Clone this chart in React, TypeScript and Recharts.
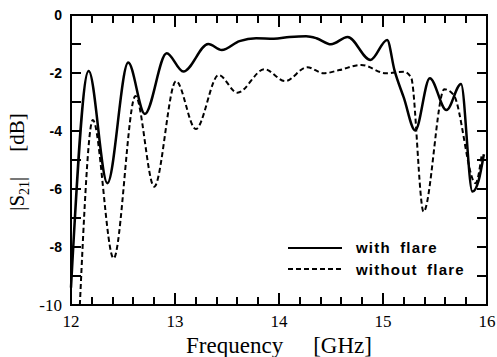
import React from "react";
import { LineChart, Line, XAxis, YAxis } from "recharts";

// S21 with flare (solid)
const freqWithFlare = [
    12.0, 12.17, 12.35, 12.55, 12.71, 12.92, 13.08, 13.32, 13.45, 13.62, 13.78,
    13.95, 14.1, 14.26, 14.36, 14.5, 14.66, 14.88, 15.04, 15.11, 15.2, 15.31,
    15.45, 15.61, 15.75, 15.86, 15.92, 15.97,
];
const s21WithFlare = [
    -9.4, -1.93, -5.8, -1.64, -3.41, -1.32, -1.95, -1.0, -1.21, -0.9, -0.8,
    -0.82, -0.76, -0.73, -0.8, -1.01, -0.76, -1.55, -0.86, -1.9, -2.85, -3.98,
    -2.18, -3.28, -2.38, -6.09, -5.7, -4.8,
];

// S21 without flare (dashed)
const freqWithoutFlare = [
    12.085, 12.21, 12.41, 12.62, 12.8, 13.01, 13.2, 13.42, 13.6, 13.86, 14.06,
    14.27, 14.43, 14.58, 14.79, 15.03, 15.2, 15.27, 15.39, 15.59, 15.68, 15.89,
    15.95,
];
const s21WithoutFlare = [
    -10, -3.62, -8.39, -2.79, -5.92, -2.28, -3.93, -2.07, -2.68, -1.87, -2.28,
    -1.8, -2.01, -1.9, -1.72, -2.01, -1.96, -2.15, -6.78, -2.56, -2.76, -5.8,
    -4.8,
];

const xTicks = [
    12, 12.2, 12.4, 12.6, 12.8, 13, 13.2, 13.4, 13.6, 13.8, 14, 14.2, 14.4, 14.6,
    14.8, 15, 15.2, 15.4, 15.6, 15.8, 16,
];
const xLabels = [12, 13, 14, 15, 16];
const yTicks = [0, -1, -2, -3, -4, -5, -6, -7, -8, -9, -10];
const yLabels = [0, -2, -4, -6, -8, -10];

const SERIF = "'Liberation Serif', 'Times New Roman', serif";
const SANS = "'Liberation Sans', Arial, sans-serif";

const W = 497;
const H = 357;
const M = { top: 15, right: 10, left: 71, bottom: 52 };
const PLOT = { x0: M.left, x1: W - M.right, y0: M.top, y1: H - M.bottom };
const sx = (v: number) => PLOT.x0 + ((v - 12) / 4) * (PLOT.x1 - PLOT.x0);
const sy = (v: number) => PLOT.y0 + (-v / 10) * (PLOT.y1 - PLOT.y0);

// one table for the chart, gaps filled with null (connectNulls joins them)
const allFreqs = Array.from(new Set([...freqWithFlare, ...freqWithoutFlare])).sort((a, b) => a - b);
const chartData = allFreqs.map((f) => {
    const i = freqWithFlare.indexOf(f);
    const j = freqWithoutFlare.indexOf(f);
    return {
        f,
        withFlare: i >= 0 ? s21WithFlare[i] : null,
        withoutFlare: j >= 0 ? s21WithoutFlare[j] : null,
    };
});

const series = [
    { key: "withFlare", name: "with flare", dash: undefined as string | undefined, width: 2.5 },
    { key: "withoutFlare", name: "without flare", dash: "5 3", width: 2 },
];

const BottomTick = (props: any) => {
    const { x, y, payload } = props;
    if (!xLabels.includes(payload.value)) return <g />;
    return (
        <text x={x} y={y + 22} textAnchor="middle" fontFamily={SERIF} fontSize={17} fill="#000">
            {payload.value}
        </text>
    );
};

const LeftTick = (props: any) => {
    const { x, y, payload } = props;
    if (!yLabels.includes(payload.value)) return <g />;
    const isBottom = payload.value === -10;
    return (
        <text
            x={x - 9}
            y={y}
            textAnchor="end"
            dominantBaseline="central"
            fontFamily={isBottom ? SERIF : SANS}
            fontWeight={isBottom ? "normal" : "bold"}
            fontSize={isBottom ? 17 : 14}
            fill="#000"
        >
            {payload.value}
        </text>
    );
};

const XTitle = (props: any) => {
    const vb = props.viewBox || { x: PLOT.x0, y: PLOT.y1, width: PLOT.x1 - PLOT.x0, height: M.bottom };
    return (
        <text x={vb.x + vb.width / 2} y={vb.y + 48} textAnchor="middle" fontFamily={SERIF} fontSize={23} fill="#000">
            <tspan>Frequency</tspan>
            <tspan dx={30}>[GHz]</tspan>
        </text>
    );
};

const YTitle = () => {
    const cx = 24;
    const cy = 162;
    return (
        <svg width={W} height={H} style={{ position: "absolute", left: 0, top: 0, pointerEvents: "none" }}>
            <text
                x={cx}
                y={cy}
                textAnchor="middle"
                transform={`rotate(-90, ${cx}, ${cy})`}
                fontFamily={SERIF}
                fontSize={21}
                fill="#000"
            >
                <tspan>|S</tspan>
                <tspan fontSize={14} dy={5}>21</tspan>
                <tspan dy={-5}>|</tspan>
                <tspan dx={25}>[dB]</tspan>
            </text>
        </svg>
    );
};

// plot frame and inward ticks on all four sides, as plain blocks
const bar = (key: string, left: number, top: number, width: number, height: number) => (
    <div key={key} style={{ position: "absolute", left, top, width, height, background: "#000" }} />
);

const Frame = () => {
    const parts: React.ReactNode[] = [];
    parts.push(bar("top", PLOT.x0 - 1, PLOT.y0 - 1, PLOT.x1 - PLOT.x0 + 2, 2));
    parts.push(bar("bottom", PLOT.x0 - 1, PLOT.y1 - 1, PLOT.x1 - PLOT.x0 + 2, 2));
    parts.push(bar("left", PLOT.x0 - 1, PLOT.y0 - 1, 2, PLOT.y1 - PLOT.y0 + 2));
    parts.push(bar("right", PLOT.x1 - 1, PLOT.y0 - 1, 2, PLOT.y1 - PLOT.y0 + 2));
    xTicks.forEach((t) => {
        const len = xLabels.includes(t) ? 12 : 8;
        const x = Math.round(sx(t)) - 1;
        parts.push(bar(`xb${t}`, x, PLOT.y1 - len, 2, len));
        parts.push(bar(`xt${t}`, x, PLOT.y0, 2, len));
    });
    yTicks.forEach((t) => {
        const y = Math.round(sy(t)) - 1;
        parts.push(bar(`yl${t}`, PLOT.x0, y, 10, 2));
        parts.push(bar(`yr${t}`, PLOT.x1 - 10, y, 10, 2));
    });
    return <div style={{ position: "absolute", left: 0, top: 0, width: W, height: H, pointerEvents: "none" }}>{parts}</div>;
};

const LegendBox = () => (
    <div
        style={{
            position: "absolute",
            left: 288,
            top: 237,
            fontFamily: SANS,
            fontWeight: "bold",
            fontSize: 15,
            color: "#000",
        }}
    >
        {series.map((s) => (
            <div key={s.key} style={{ display: "flex", alignItems: "center", height: 21.5 }}>
                <svg width={54} height={6} style={{ display: "block" }}>
                    <line x1={0} y1={3} x2={54} y2={3} stroke="#000" strokeWidth={2} strokeDasharray={s.dash} />
                </svg>
                <span style={{ marginLeft: 14, letterSpacing: 1.2, wordSpacing: 4, lineHeight: 1 }}>{s.name}</span>
            </div>
        ))}
    </div>
);

export default function App() {
    return (
        <div style={{ position: "absolute", left: 0, top: 0, width: W, height: H, background: "#fff" }}>
            <LineChart width={W} height={H} data={chartData} margin={{ top: M.top, right: M.right, left: 0, bottom: 0 }}>
                <XAxis
                    dataKey="f"
                    type="number"
                    domain={[12, 16]}
                    ticks={xTicks}
                    interval={0}
                    height={M.bottom}
                    tickSize={0}
                    tickMargin={0}
                    tickLine={false}
                    axisLine={false}
                    tick={<BottomTick />}
                    label={{ content: (p: any) => <XTitle {...p} /> }}
                />
                <YAxis
                    type="number"
                    domain={[-10, 0]}
                    ticks={yTicks}
                    interval={0}
                    width={M.left}
                    tickSize={0}
                    tickMargin={0}
                    tickLine={false}
                    axisLine={false}
                    tick={<LeftTick />}
                />
                {series.map((s) => (
                    <Line
                        key={s.key}
                        dataKey={s.key}
                        type="monotone"
                        connectNulls
                        stroke="#000"
                        strokeWidth={s.width}
                        strokeDasharray={s.dash}
                        dot={false}
                        isAnimationActive={false}
                    />
                ))}
            </LineChart>
            <Frame />
            <YTitle />
            <LegendBox />
        </div>
    );
}
